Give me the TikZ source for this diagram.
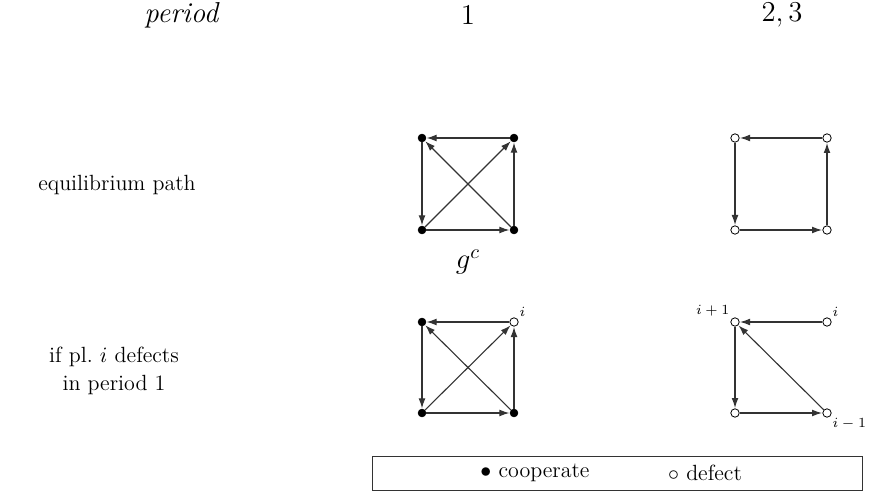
\documentclass[tikz,border=0pt]{standalone}
\usetikzlibrary{arrows.meta}
\begin{document}
\begin{tikzpicture}[x=0.5pt,y=-0.5pt,
  coop/.style={circle,fill=black,draw=black,inner sep=0pt,minimum size=3.8pt},
  dfct/.style={circle,fill=white,draw=black,line width=0.4pt,inner sep=0pt,minimum size=4.2pt},
  edge/.style={draw=black!80,line width=0.55pt,-{Latex[length=5pt,width=3.4pt]},shorten >=0.2pt},
  lbl/.style={font=\scriptsize,inner sep=1pt},
  head/.style={font=\Large},
  rowlbl/.style={font=\fontsize{11}{14}\selectfont,align=center}]
\useasboundingbox (0,0) rectangle (876,496);
% headers
\node[head] (hp) at (182,15) {\textit{period}};
\node[head] (h1) at (468,15) {$1$};
\node[head] (h2) at (782,15) {$2,3$};
% row labels
\node[rowlbl] (r1) at (117,185) {equilibrium path};
\node[rowlbl] (r2) at (114,371) {if pl.\ $i$ defects\\ in period 1};
% square A (period 1, eq path)
\node[coop] (a1) at (422,138) {};
\node[coop] (a2) at (514,138) {};
\node[coop] (a3) at (422,230) {};
\node[coop] (a4) at (514,230) {};
\draw[edge] (a2) -- (a1);
\draw[edge] (a1) -- (a3);
\draw[edge] (a3) -- (a4);
\draw[edge] (a4) -- (a2);
\draw[edge] (a3) -- (a2);
\draw[edge] (a4) -- (a1);
\node[head] (gc) at (468,262) {$g^c$};
% square B (period 2,3, eq path)
\node[dfct] (b1) at (735,138) {};
\node[dfct] (b2) at (827,138) {};
\node[dfct] (b3) at (735,230) {};
\node[dfct] (b4) at (827,230) {};
\draw[edge] (b2) -- (b1);
\draw[edge] (b1) -- (b3);
\draw[edge] (b3) -- (b4);
\draw[edge] (b4) -- (b2);
% square C (period 1, deviation)
\node[coop] (c1) at (422,322) {};
\node[dfct] (c2) at (514,322) {};
\node[coop] (c3) at (422,413) {};
\node[coop] (c4) at (514,413) {};
\draw[edge] (c2) -- (c1);
\draw[edge] (c1) -- (c3);
\draw[edge] (c3) -- (c4);
\draw[edge] (c4) -- (c2);
\draw[edge] (c3) -- (c2);
\draw[edge] (c4) -- (c1);
\node[lbl,anchor=south west] (ci) at (c2.north east) {$i$};
% square D (period 2,3, deviation)
\node[dfct] (d1) at (735,322) {};
\node[dfct] (d2) at (827,322) {};
\node[dfct] (d3) at (735,413) {};
\node[dfct] (d4) at (827,413) {};
\draw[edge] (d2) -- (d1);
\draw[edge] (d1) -- (d3);
\draw[edge] (d3) -- (d4);
\draw[edge] (d4) -- (d1);
\node[lbl,anchor=south east] (di1) at (d1.north west) {$i+1$};
\node[lbl,anchor=south west] (di) at (d2.north east) {$i$};
\node[lbl,anchor=north west] (dim) at (d4.south east) {$i-1$};
% legend
\draw[black!80,line width=0.5pt] (372,456) rectangle (862,490);
\node[rowlbl] (lc) at (535,473) {$\bullet$ cooperate};
\node[rowlbl] (ld) at (705,473) {$\circ$ defect};
\end{tikzpicture}
\end{document}
